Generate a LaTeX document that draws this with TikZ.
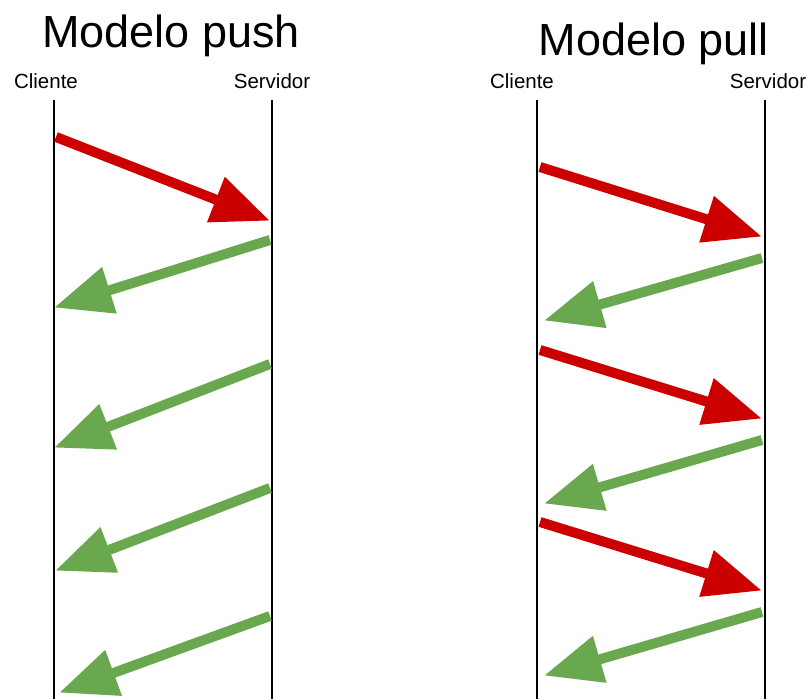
\documentclass[tikz,border=0pt]{standalone}
\usepackage{fontspec}
\setmainfont{Liberation Sans}
\usetikzlibrary{arrows.meta}
\definecolor{reqred}{HTML}{CC0000}
\definecolor{respgreen}{HTML}{6AA84F}
\tikzset{
  lifeline/.style={line width=1.5pt, black},
  msg/.style={line width=10pt, -{Triangle[length=58pt,width=46pt]}, shorten >=-2pt},
  req/.style={msg, reqred},
  resp/.style={msg, respgreen},
  title/.style={anchor=base, font=\fontsize{45}{54}\selectfont, inner sep=0pt},
  role/.style={anchor=base, font=\fontsize{20.5}{24}\selectfont, inner sep=0pt}
}
\begin{document}
\begin{tikzpicture}[x=1pt,y=-1pt]
\useasboundingbox (0,0) rectangle (811,699);

% ---------- push model ----------
\node[title] (tpush) at (171,47) {Modelo push};
\node[role] (lc) at (46,88) {Cliente};
\node[role] (ls) at (272,88) {Servidor};
\coordinate (lctop) at (54,100);  \coordinate (lcbot) at (54,699);
\coordinate (lstop) at (272,100); \coordinate (lsbot) at (272,699);
\draw[lifeline] (lctop) -- (lcbot);
\draw[lifeline] (lstop) -- (lsbot);

\coordinate (p1a) at (56,137);  \coordinate (p1b) at (268,220);
\coordinate (p2a) at (270,240); \coordinate (p2b) at (56,307);
\coordinate (p3a) at (270,364); \coordinate (p3b) at (56,447);
\coordinate (p4a) at (270,488); \coordinate (p4b) at (57,570);
\coordinate (p5a) at (270,616); \coordinate (p5b) at (61,692);
\draw[req]  (p1a) -- (p1b);
\draw[resp] (p2a) -- (p2b);
\draw[resp] (p3a) -- (p3b);
\draw[resp] (p4a) -- (p4b);
\draw[resp] (p5a) -- (p5b);

% ---------- pull model ----------
\node[title] (tpull) at (654,55) {Modelo pull};
\node[role] (rc) at (522,88) {Cliente};
\node[role] (rs) at (768,88) {Servidor};
\coordinate (rctop) at (537,100); \coordinate (rcbot) at (537,699);
\coordinate (rstop) at (765,100); \coordinate (rsbot) at (765,699);
\draw[lifeline] (rctop) -- (rcbot);
\draw[lifeline] (rstop) -- (rsbot);

\coordinate (q1a) at (540,167); \coordinate (q1b) at (760,236);
\coordinate (q2a) at (762,258); \coordinate (q2b) at (546,320);
\coordinate (q3a) at (540,350); \coordinate (q3b) at (760,418);
\coordinate (q4a) at (762,440); \coordinate (q4b) at (546,503);
\coordinate (q5a) at (540,522); \coordinate (q5b) at (760,590);
\coordinate (q6a) at (762,612); \coordinate (q6b) at (546,675);
\draw[req]  (q1a) -- (q1b);
\draw[resp] (q2a) -- (q2b);
\draw[req]  (q3a) -- (q3b);
\draw[resp] (q4a) -- (q4b);
\draw[req]  (q5a) -- (q5b);
\draw[resp] (q6a) -- (q6b);
\end{tikzpicture}
\end{document}
